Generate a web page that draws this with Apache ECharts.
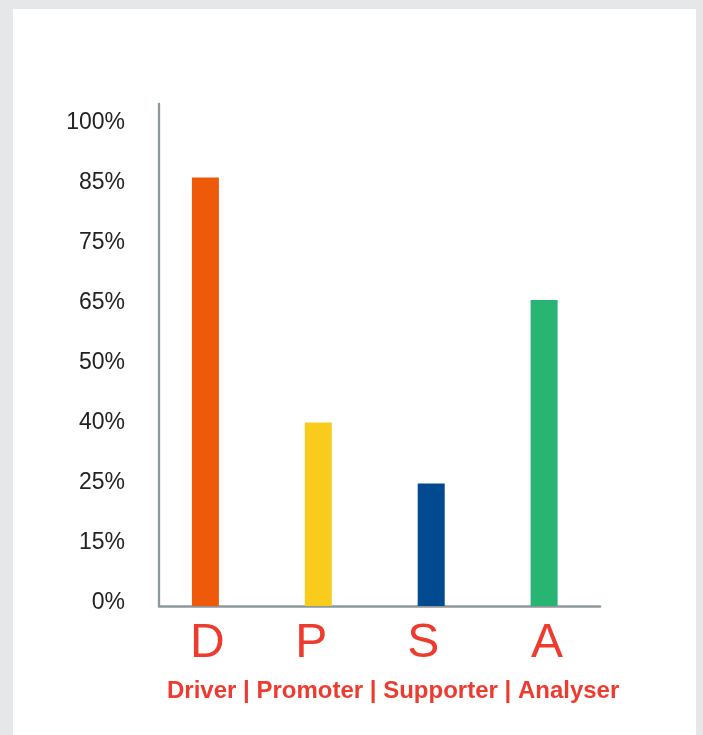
<!DOCTYPE html>
<html>
<head>
<meta charset="utf-8">
<script src="https://cdn.jsdelivr.net/npm/echarts@6/dist/echarts.min.js"></script>
<style>
  html, body { margin: 0; padding: 0; background: #e6e7e9; }
  #panel { position: absolute; left: 13px; top: 9px; width: 683px; height: 726px; background: #ffffff; }
  #chart { position: absolute; left: 0; top: 0; width: 703px; height: 735px; }
</style>
</head>
<body>
<div id="panel"></div>
<div id="chart"></div>
<script>
// Data
const categories = ['D', 'P', 'S', 'A'];
const subtitle = 'Driver | Promoter | Supporter | Analyser';
const tickLabels = ['0%', '15%', '25%', '40%', '50%', '65%', '75%', '85%', '100%'];
const values = [85, 40, 25, 65];
const barColors = ['#ef5a0a', '#f9cb1d', '#024a8f', '#28b473'];

const chart = echarts.init(document.getElementById('chart'), null, { renderer: 'canvas' });

const red = '#ee3b2f';
const axisGray = '#8e979c';
const letterFont = { fontSize: 48, fontFamily: 'Liberation Sans, Arial, sans-serif', color: red };

const option = {
  backgroundColor: 'transparent',
  animation: false,
  grid: { left: 159, right: 103, top: 104, bottom: 129, containLabel: false },
  xAxis: {
    type: 'value',
    min: -0.411,
    max: 3.495,
    axisLine: { show: true, onZero: false, lineStyle: { color: axisGray, width: 2.5 } },
    axisTick: { show: false },
    splitLine: { show: false },
    axisLabel: {
      customValues: [0, 1, 2, 3],
      formatter: v => '{c' + Math.round(v) + '|' + categories[Math.round(v)] + '}',
      rich: {
        c0: Object.assign({ padding: [0, 0, 0, 4] }, letterFont),
        c1: Object.assign({ padding: [0, 14, 0, 0] }, letterFont),
        c2: Object.assign({ padding: [0, 16, 0, 0] }, letterFont),
        c3: Object.assign({ padding: [0, 0, 0, 6] }, letterFont)
      },
      fontSize: 48,
      fontFamily: 'Liberation Sans, Arial, sans-serif',
      color: red,
      margin: 14
    }
  },
  yAxis: [
    {
      type: 'value',
      position: 'left',
      min: 0,
      max: 8.203,
      axisLine: { show: true, onZero: false, lineStyle: { color: axisGray, width: 2.3 } },
      axisTick: { show: false },
      splitLine: { show: false },
      axisLabel: { show: false }
    },
    {
      type: 'value',
      position: 'left',
      min: -0.057,
      max: 8.31,
      axisLine: { show: false, onZero: false },
      axisTick: { show: false },
      splitLine: { show: false },
      axisLabel: {
        customValues: [0, 1, 2, 3, 4, 5, 6, 7, 8],
        formatter: v => tickLabels[Math.round(v)],
        fontSize: 23,
        fontFamily: 'Liberation Sans, Arial, sans-serif',
        color: '#222222',
        margin: 34
      }
    }
  ],
  series: [
    {
      type: 'bar',
      yAxisIndex: 0,
      barWidth: 27,
      data: values.map((v, i) => ({
        value: [i, tickLabels.indexOf(v + '%')],
        itemStyle: { color: barColors[i] }
      }))
    }
  ],
  graphic: [
    {
      type: 'text',
      left: 167,
      top: 679,
      style: {
        text: subtitle,
        fill: red,
        font: 'bold 24px "Liberation Sans", Arial, sans-serif'
      }
    }
  ]
};

chart.setOption(option);
</script>
</body>
</html>
